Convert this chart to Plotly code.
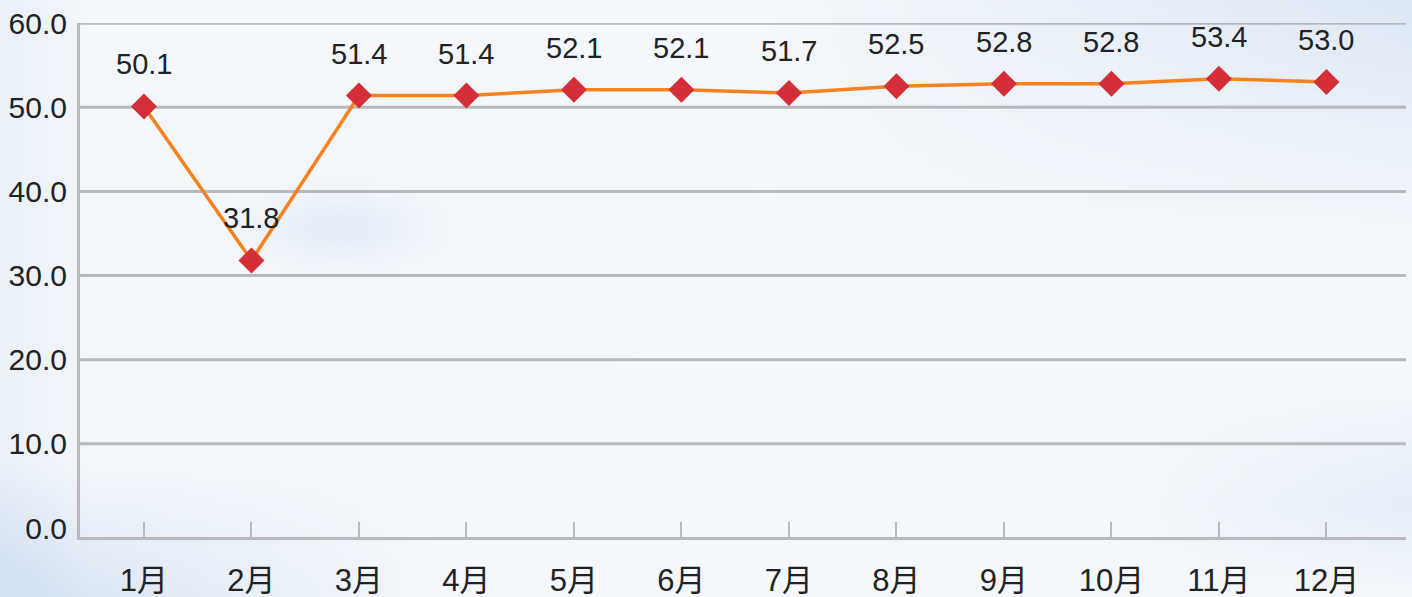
import base64, struct, zlib
import numpy as np
import plotly.graph_objects as go

months = ["1月", "2月", "3月", "4月", "5月", "6月", "7月", "8月", "9月", "10月", "11月", "12月"]
values = [50.1, 31.8, 51.4, 51.4, 52.1, 52.1, 51.7, 52.5, 52.8, 52.8, 53.4, 53.0]
y_ticks = [0, 10, 20, 30, 40, 50, 60]
y_ticktext = ["0.0", "10.0", "20.0", "30.0", "40.0", "50.0", "60.0"]

W, H = 1412, 597
L, R, T, B = 80, 6, 23, 60
PW, PH = W - L - R, H - T - B


def sky_png(w=282, h=120):
    yy, xx = np.mgrid[0:h, 0:w]
    u = xx / (w - 1)
    v = yy / (h - 1)
    base = np.array([244, 247, 251], float)
    blue = np.array([212, 226, 243], float)
    a = np.clip((u - 0.55) / 0.45, 0, 1) * np.clip(1 - v / 0.4, 0, 1) * 0.7
    b = np.clip(1 - u / 0.3, 0, 1) * np.clip((v - 0.78) / 0.22, 0, 1) * 0.9
    c = np.clip(1 - u / 0.06, 0, 1) * 0.3
    d = np.exp(-(((u - 0.24) / 0.05) ** 2 + ((v - 0.38) / 0.05) ** 2)) * 0.5
    e = np.clip((u - 0.8) / 0.2, 0, 1) * np.clip((v - 0.65) / 0.2, 0, 1) * np.clip((1 - v) / 0.15, 0, 1) * 0.45
    k = np.clip(a + b + c + d + e, 0, 1)[..., None]
    img = (base * (1 - k) + blue * k).astype(np.uint8)
    raw = b"".join(b"\x00" + img[i].tobytes() for i in range(h))

    def chunk(t, data):
        return struct.pack(">I", len(data)) + t + data + struct.pack(">I", zlib.crc32(t + data) & 0xFFFFFFFF)

    png = b"\x89PNG\r\n\x1a\n" + chunk(b"IHDR", struct.pack(">IIBBBBB", w, h, 8, 2, 0, 0, 0)) \
        + chunk(b"IDAT", zlib.compress(raw, 9)) + chunk(b"IEND", b"")
    return "data:image/png;base64," + base64.b64encode(png).decode()


fig = go.Figure()
fig.add_trace(go.Scatter(
    x=months, y=values, mode="lines+markers",
    line=dict(color="#f5821f", width=3.5),
    marker=dict(symbol="diamond", size=20, color="#d42f38"),
    hoverinfo="skip", showlegend=False,
))

for m, v in zip(months, values):
    fig.add_annotation(x=m, y=v, text=f"{v:.1f}", showarrow=False, yshift=42,
                       font=dict(size=29, color="#222222",
                                 family="Liberation Sans, Arial, sans-serif"))

for t in y_ticks[1:]:
    fig.add_shape(type="line", xref="paper", x0=0, x1=1, yref="y", y0=t, y1=t,
                  line=dict(color="#b9b9bd", width=3), layer="below")

fig.add_layout_image(dict(
    source=sky_png(), xref="paper", yref="paper",
    x=-L / PW, y=1 + T / PH, sizex=W / PW, sizey=H / PH,
    xanchor="left", yanchor="top", sizing="stretch", layer="below",
))

fig.update_layout(
    width=W, height=H,
    margin=dict(l=L, r=R, t=T, b=B, autoexpand=False),
    paper_bgcolor="#f2f6fa", plot_bgcolor="rgba(0,0,0,0)",
    font=dict(family="Liberation Sans, Noto Sans CJK SC, sans-serif", color="#222222"),
    xaxis=dict(
        type="category", range=[-0.595, 11.74], automargin=False,
        showline=True, linecolor="#b9b9bd", linewidth=3,
        ticks="inside", ticklen=15, tickwidth=2, tickcolor="#b9b9bd",
        showgrid=False, zeroline=False,
        tickfont=dict(size=31, family="Liberation Sans, Noto Sans CJK SC, sans-serif", color="#222222"),
        ticklabelstandoff=14,
    ),
    yaxis=dict(
        range=[-1.07, 60.02], automargin=False,
        tickvals=y_ticks, ticktext=y_ticktext,
        showline=True, linecolor="#b9b9bd", linewidth=3,
        showgrid=False, zeroline=False, ticks="",
        tickfont=dict(size=30, family="Liberation Sans, Arial, sans-serif", color="#222222"),
        ticklabelstandoff=4,
    ),
)

fig.write_html("out.html", config={"displayModeBar": False},
               post_script="document.body.style.margin='0';document.body.style.overflow='hidden';")
